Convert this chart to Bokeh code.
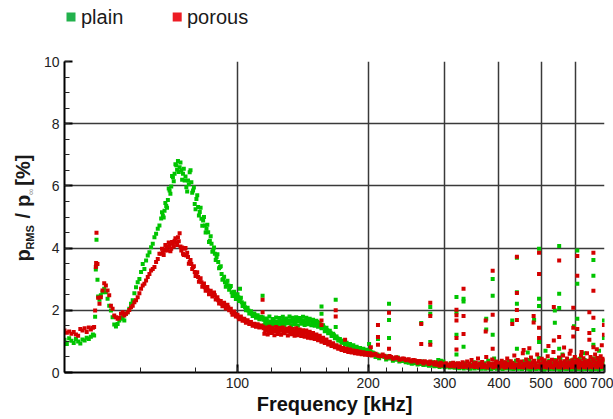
import math
from bokeh.plotting import figure
from bokeh.layouts import column, row
from bokeh.models import Range1d, FixedTicker, PrintfTickFormatter
from bokeh.core.properties import value
from bokeh.embed import file_html
from bokeh.resources import INLINE

# ---------------- data ----------------
x_major_ticks = [100, 200, 300, 400, 500, 600, 700]
x_minor_ticks = [40, 60, 80, 100, 120, 140, 160, 180, 200, 220, 240, 260, 280, 300, 320, 340, 360, 380,
                 400, 420, 440, 460, 480, 500, 520, 540, 560, 580, 600, 620, 640, 660, 680, 700]
y_major_ticks = [0, 2, 4, 6, 8, 10]
y_minor_ticks = [0.5, 1, 1.5, 2, 2.5, 3, 3.5, 4, 4.5, 5, 5.5, 6, 6.5, 7, 7.5, 8, 8.5, 9, 9.5, 10]

freq_low = [40.0, 40.5, 41.0, 41.5, 42.0, 42.5, 43.0, 43.5, 44.0, 44.5, 45.0, 45.5, 46.0, 46.5]
plain_low = [1.05, 0.92, 1.10, 1.02, 0.95, 1.08, 1.00, 0.93, 1.06, 1.03, 1.12, 1.08, 1.15, 1.22]
porous_low = [1.35, 1.28, 1.32, 1.25, 1.30, 1.22, 1.18, 1.40, 1.35, 1.42, 1.30, 1.45, 1.38, 1.44]

freq_b = [46.80, 47.05, 47.22, 47.39, 47.64, 47.81, 48.15, 48.50, 48.93, 49.37, 49.81, 50.26, 50.70, 51.16,
          51.61, 52.07, 52.54, 53.01, 53.48, 53.96, 54.44, 54.92, 55.41, 55.91, 56.40, 56.91, 57.42, 57.93,
          58.44, 58.96, 59.49, 60.02, 60.55, 61.09, 61.64, 62.19, 62.74, 63.30, 63.86, 64.43, 65.00, 65.58, 66.16]
plain_b = [1.19, 1.79, 3.31, 4.27, 2.98, 2.44, 2.34, 2.48, 2.58, 2.69, 2.58, 2.37, 2.15, 1.99, 1.78, 1.54,
           1.48, 1.56, 1.67, 1.73, 1.78, 1.67, 1.89, 1.94, 2.05, 2.21, 2.32, 2.55, 2.74, 2.90, 3.01, 3.23,
           3.49, 3.33, 3.60, 3.76, 3.87, 4.03, 4.14, 4.35, 4.46, 4.62, 4.73]
porous_b = [1.46, 1.99, 3.39, 4.49, 3.49, 2.40, 2.21, 2.42, 2.64, 2.87, 2.80, 2.64, 2.48, 2.15, 2.05, 1.83,
            1.78, 1.73, 1.76, 1.89, 1.94, 1.83, 1.89, 1.94, 2.01, 2.10, 2.15, 2.26, 2.32, 2.42, 2.55, 2.69,
            2.80, 2.85, 2.96, 3.07, 3.17, 3.28, 3.33, 3.39, 3.55, 3.65, 3.82]

freq_c = [66.77, 67.37, 67.97, 68.58, 69.19, 69.81, 70.43, 71.06, 71.69, 72.33, 72.98, 73.63, 74.29, 74.95,
          75.62, 76.30, 76.98, 77.67, 78.36, 79.06, 79.77, 80.48, 81.20, 81.93, 82.66, 83.40, 84.15, 84.90,
          85.66, 86.42, 87.20, 87.98, 88.76, 89.56, 90.36, 91.16, 91.98, 92.80, 93.63, 94.46, 95.31, 96.16,
          97.02, 97.88, 98.76, 99.64, 100.53, 101.43, 102.33, 103.25, 104.17, 105.10, 106.04, 106.99, 107.94,
          108.90, 109.88, 110.86, 111.85, 112.85, 113.85]
plain_c = [4.95, 5.05, 5.20, 5.35, 5.55, 5.85, 5.98, 6.28, 6.39, 6.66, 6.80, 6.60, 6.50, 6.39, 6.17, 5.96,
           6.17, 6.44, 6.12, 5.85, 5.42, 5.58, 5.32, 5.16, 4.94, 4.89, 4.73, 4.62, 4.51, 4.24, 4.14, 3.92,
           3.82, 3.71, 3.55, 3.39, 3.17, 3.01, 2.90, 2.85, 2.80, 2.74, 2.58, 2.53, 2.48, 2.44, 2.42, 2.37,
           2.26, 2.19, 2.10, 2.05, 1.99, 1.94, 1.89, 1.86, 1.83, 1.80, 1.78, 1.75, 1.73]
porous_c = [3.82, 3.87, 3.92, 4.03, 4.05, 4.08, 3.98, 4.14, 4.24, 4.19, 4.35, 4.48, 3.92, 3.82, 3.98, 3.76,
            3.71, 3.55, 3.49, 3.39, 3.23, 3.17, 3.07, 2.96, 2.90, 2.80, 2.74, 2.69, 2.64, 2.58, 2.53, 2.51,
            2.48, 2.37, 2.32, 2.26, 2.21, 2.19, 2.15, 2.12, 2.10, 2.02, 1.94, 1.91, 1.89, 1.83, 1.78, 1.76,
            1.73, 1.69, 1.67, 1.64, 1.62, 1.59, 1.56, 1.54, 1.51, 1.51, 1.51, 1.48, 1.46]

freq_c2 = [67.07, 67.67, 68.27, 68.88, 69.50, 70.12, 70.74, 71.37, 72.01, 72.65, 73.30, 73.96, 74.62, 75.28,
           75.96, 76.64, 77.32, 78.01, 78.71, 79.41, 80.12, 80.84, 81.56, 82.29, 83.03, 83.77, 84.52, 85.28,
           86.04, 86.81, 87.59, 88.37, 89.16, 89.96, 90.76, 91.57, 92.39, 93.21, 94.04, 94.88, 95.73, 96.59,
           97.45, 98.32, 99.20, 100.08, 100.98, 101.88, 102.79, 103.71, 104.63, 105.57, 106.51, 107.46,
           108.42, 109.39, 110.37, 111.35, 112.35, 113.35]
plain_c2 = [5.15, 4.98, 5.45, 5.30, 5.92, 5.75, 6.32, 6.15, 6.70, 6.52, 6.45, 6.75, 6.20, 6.55, 6.30, 5.82,
            6.05, 6.50, 5.78, 5.95, 5.25, 5.70, 5.05, 5.30, 4.72, 5.00, 4.50, 4.75, 4.20, 4.38, 3.88, 4.02,
            3.62, 3.80, 3.35, 3.42, 2.98, 3.08, 2.76, 2.95, 2.66, 2.78, 2.46, 2.60, 2.36, 2.52, 2.30, 2.40,
            2.14, 2.22, 2.00, 2.08, 1.90, 1.97, 1.82, 1.90, 1.76, 1.84, 1.71, 1.79]
porous_c2 = [3.98, 3.78, 4.10, 3.92, 4.18, 3.90, 4.20, 4.05, 4.32, 4.10, 4.22, 4.05, 4.02, 3.78, 4.00, 3.85,
             3.50, 3.62, 3.33, 3.42, 3.10, 3.22, 2.92, 3.03, 2.76, 2.86, 2.63, 2.75, 2.52, 2.63, 2.44, 2.57,
             2.35, 2.42, 2.22, 2.30, 2.13, 2.24, 2.06, 2.18, 2.00, 2.05, 1.86, 1.96, 1.80, 1.86, 1.71, 1.80,
             1.66, 1.73, 1.60, 1.68, 1.56, 1.62, 1.50, 1.57, 1.47, 1.55, 1.45, 1.51]

freq_d = [114.87, 115.89, 116.93, 117.97, 119.03, 120.09, 121.16, 122.24, 123.34, 124.44, 125.55, 126.67,
          127.80, 128.95, 130.10, 131.26, 132.43, 133.62, 134.81, 136.02, 137.23, 138.46, 139.70, 140.94,
          142.20, 143.47, 144.76, 146.05, 147.35, 148.67, 150.00, 151.34, 152.69, 154.06, 155.43, 156.82,
          158.22, 159.64, 161.06, 162.50, 163.95, 165.42, 166.90, 168.39, 169.89, 171.41, 172.94, 174.49,
          176.05, 177.62, 179.21, 180.81, 182.42, 184.05, 185.70, 187.36, 189.03, 190.72, 192.42, 194.14,
          195.88, 197.63, 199.40, 201.17, 202.97, 204.78]
plain_d = [1.70, 1.62, 1.68, 1.58, 1.64, 1.60, 1.66, 1.57, 1.63, 1.59, 1.67, 1.61, 1.70, 1.62, 1.66, 1.60,
           1.68, 1.63, 1.70, 1.61, 1.66, 1.64, 1.71, 1.62, 1.67, 1.60, 1.69, 1.63, 1.68, 1.61, 1.65, 1.59,
           1.62, 1.55, 1.53, 1.48, 1.45, 1.38, 1.36, 1.30, 1.28, 1.22, 1.20, 1.15, 1.10, 1.07, 1.02, 1.00,
           0.96, 0.95, 0.91, 0.90, 0.86, 0.85, 0.81, 0.79, 0.77, 0.75, 0.74, 0.72, 0.71, 0.70, 0.68, 0.67,
           0.65, 0.64]
porous_d = [1.42, 1.35, 1.40, 1.32, 1.38, 1.30, 1.36, 1.33, 1.39, 1.31, 1.37, 1.34, 1.29, 1.36, 1.32, 1.38,
            1.30, 1.35, 1.28, 1.33, 1.27, 1.34, 1.29, 1.31, 1.25, 1.30, 1.24, 1.28, 1.20, 1.22, 1.17, 1.19,
            1.13, 1.14, 1.10, 1.08, 1.03, 1.02, 0.97, 0.95, 0.91, 0.89, 0.85, 0.84, 0.81, 0.80, 0.77, 0.76,
            0.74, 0.73, 0.71, 0.70, 0.69, 0.68, 0.66, 0.66, 0.64, 0.65, 0.63, 0.63, 0.62, 0.61, 0.61, 0.60,
            0.59, 0.58]

freq_d2 = [114.36, 115.38, 116.41, 117.45, 118.50, 119.56, 120.62, 121.70, 122.79, 123.89, 124.99, 126.11,
           127.23, 128.37, 129.52, 130.68, 131.84, 133.02, 134.21, 135.41, 136.62, 137.84, 139.08, 140.32,
           141.57, 142.83, 144.11, 145.40, 146.70, 148.01, 149.33, 150.67, 152.01, 153.37, 154.74, 156.12,
           157.52, 158.93, 160.35, 161.78, 163.22, 164.68, 166.16, 167.64, 169.14, 170.65, 172.17, 173.71,
           175.27, 176.83, 178.41, 180.01, 181.61, 183.23, 184.87, 186.53, 188.19, 189.87, 191.57, 193.28,
           195.01, 196.75, 198.51, 200.28, 202.07, 203.87]
plain_d2 = [1.78, 1.52, 1.74, 1.55, 1.80, 1.50, 1.72, 1.54, 1.77, 1.51,
            1.75, 1.56, 1.79, 1.53, 1.74, 1.58, 1.80, 1.52, 1.76, 1.55,
            1.78, 1.50, 1.75, 1.57, 1.79, 1.53, 1.76, 1.55, 1.73, 1.52,
            1.70, 1.50, 1.66, 1.47, 1.60, 1.42, 1.52, 1.33, 1.44, 1.26,
            1.34, 1.17, 1.25, 1.10, 1.16, 1.03, 1.08, 0.96, 1.02, 0.90,
            0.96, 0.86, 0.92, 0.82, 0.88, 0.76, 0.83, 0.73, 0.79, 0.70,
            0.76, 0.68, 0.73, 0.64, 0.70, 0.62]
porous_d2 = [1.48, 1.25, 1.45, 1.22, 1.47, 1.27, 1.44, 1.20, 1.46, 1.24,
             1.43, 1.21, 1.45, 1.26, 1.41, 1.19, 1.44, 1.23, 1.40, 1.18,
             1.42, 1.20, 1.38, 1.17, 1.36, 1.15, 1.35, 1.12, 1.31, 1.10,
             1.27, 1.08, 1.22, 1.04, 1.18, 0.99, 1.12, 0.95, 1.06, 0.90,
             0.99, 0.85, 0.94, 0.81, 0.88, 0.76, 0.84, 0.72, 0.79, 0.69,
             0.76, 0.66, 0.74, 0.64, 0.71, 0.62, 0.69, 0.60, 0.67, 0.59,
             0.65, 0.57, 0.63, 0.56, 0.62, 0.55]

freq_e = [206, 210, 214, 218, 222, 226, 230, 234, 238, 242, 246, 250, 254, 258, 262, 266, 270, 274, 278, 282,
          286, 290, 294, 298, 302, 306, 310, 314, 318, 322, 326, 330, 334, 338, 342, 346, 350, 354, 358, 362,
          366, 370, 374, 378, 382, 386, 390, 394, 398, 402, 406, 410, 414, 418, 422, 426, 430, 434, 438, 442,
          446, 450, 454, 458, 462, 466, 470, 474, 478, 482, 486, 490, 494, 498, 502, 506, 510, 514, 518, 522,
          526, 530, 534, 538, 542, 546, 550, 554, 558, 562, 566, 570, 574, 578, 582, 586, 590, 594, 598, 602,
          606, 610, 614, 618, 622, 626, 630, 634, 638, 642, 646, 650, 654, 658, 662, 666, 670, 674, 678, 682,
          686, 690, 694, 698]
plain_e = [0.62, 0.58, 0.55, 0.50, 0.52, 0.47, 0.44, 0.48, 0.40, 0.42,
           0.39, 0.36, 0.33, 0.37, 0.30, 0.35, 0.32, 0.30, 0.34, 0.33,
           0.30, 0.40, 0.38, 0.35, 0.26, 0.24, 0.30, 0.22, 0.28, 0.25,
           0.22, 0.25, 0.30, 0.20, 0.27, 0.24, 0.33, 0.21, 0.26, 0.30,
           0.24, 0.30, 0.21, 0.38, 0.23, 0.28, 0.45, 0.22, 0.30, 0.26,
           0.22, 0.33, 0.25, 0.20, 0.35, 0.24, 0.28, 0.31, 0.38, 0.23,
           0.26, 0.20, 0.30, 0.36, 0.22, 0.27, 0.40, 0.24, 0.20, 0.32,
           0.25, 0.21, 0.47, 0.30, 0.23, 0.35, 0.20, 0.31, 0.26, 0.38,
           0.33, 0.22, 0.28, 0.40, 0.20, 0.31, 0.25, 0.44, 0.23, 0.30,
           0.26, 0.35, 0.21, 0.29, 0.38, 0.22, 0.31, 0.42, 0.25, 0.20,
           0.30, 0.24, 0.44, 0.27, 0.21, 0.33, 0.40, 0.23, 0.29, 0.36,
           0.25, 0.38, 0.22, 0.31, 0.45, 0.27, 0.20, 0.35, 0.29, 0.42,
           0.28, 0.33, 0.25, 0.36]
porous_e = [0.57, 0.55, 0.52, 0.54, 0.49, 0.50, 0.46, 0.47, 0.43, 0.44,
            0.41, 0.38, 0.40, 0.36, 0.37, 0.34, 0.36, 0.32, 0.35, 0.31,
            0.33, 0.29, 0.31, 0.27, 0.30, 0.26, 0.29, 0.31, 0.27, 0.30,
            0.28, 0.33, 0.26, 0.35, 0.29, 0.40, 0.27, 0.31, 0.45, 0.28,
            0.34, 0.26, 0.50, 0.30, 0.27, 0.42, 0.29, 0.35, 0.25, 0.31,
            0.38, 0.27, 0.33, 0.45, 0.28, 0.36, 0.30, 0.55, 0.26, 0.40,
            0.29, 0.35, 0.62, 0.28, 0.42, 0.31, 0.27, 0.48, 0.33, 0.38,
            0.30, 0.58, 0.36, 0.27, 0.44, 0.32, 0.39, 0.28, 0.52, 0.34,
            0.29, 0.41, 0.66, 0.31, 0.37, 0.27, 0.48, 0.35, 0.30, 0.55,
            0.36, 0.28, 0.45, 0.33, 0.60, 0.30, 0.39, 0.27, 0.50, 0.34,
            0.41, 0.29, 0.37, 0.55, 0.31, 0.46, 0.35, 0.28, 0.62, 0.38,
            0.33, 0.50, 0.29, 0.43, 0.36, 0.58, 0.31, 0.47, 0.39, 0.34,
            0.52, 0.37, 0.44, 0.40]

freq_e2 = [208, 212, 216, 220, 224, 228, 232, 236, 240, 244, 248, 252, 256, 260, 264, 268, 272, 276, 280, 284,
           288, 292, 296, 300, 304, 308, 312, 316, 320, 324, 328, 332, 336, 340, 344, 348, 352, 356, 360, 364,
           368, 372, 376, 380, 384, 388, 392, 396, 400, 404, 408, 412, 416, 420, 424, 428, 432, 436, 440, 444,
           448, 452, 456, 460, 464, 468, 472, 476, 480, 484, 488, 492, 496, 500, 504, 508, 512, 516, 520, 524,
           528, 532, 536, 540, 544, 548, 552, 556, 560, 564, 568, 572, 576, 580, 584, 588, 592, 596, 600, 604,
           608, 612, 616, 620, 624, 628, 632, 636, 640, 644, 648, 652, 656, 660, 664, 668, 672, 676, 680, 684,
           688, 692, 696]
plain_e2 = [0.50, 0.46, 0.53, 0.42, 0.45, 0.38, 0.41, 0.35, 0.37, 0.33,
            0.31, 0.28, 0.30, 0.26, 0.27, 0.24, 0.25, 0.22, 0.23, 0.20,
            0.21, 0.18, 0.20, 0.17, 0.19, 0.16, 0.18, 0.15, 0.17, 0.14,
            0.16, 0.13, 0.17, 0.14, 0.12, 0.16, 0.13, 0.18, 0.14, 0.12,
            0.15, 0.12, 0.17, 0.13, 0.11, 0.16, 0.14, 0.12, 0.18, 0.13,
            0.11, 0.15, 0.13, 0.17, 0.12, 0.14, 0.11, 0.16, 0.13, 0.12,
            0.15, 0.11, 0.14, 0.17, 0.12, 0.13, 0.10, 0.16, 0.12, 0.14,
            0.11, 0.15, 0.13, 0.12, 0.16, 0.10, 0.14, 0.12, 0.17, 0.11,
            0.13, 0.16, 0.11, 0.14, 0.12, 0.15, 0.10, 0.13, 0.17, 0.12,
            0.14, 0.11, 0.16, 0.12, 0.13, 0.10, 0.15, 0.12, 0.14, 0.16,
            0.11, 0.13, 0.15, 0.10, 0.14, 0.12, 0.16, 0.11, 0.13, 0.15,
            0.12, 0.10, 0.14, 0.17, 0.11, 0.13, 0.15, 0.12, 0.10, 0.14,
            0.12, 0.16, 0.13]
porous_e2 = [0.60, 0.53, 0.58, 0.48, 0.53, 0.44, 0.49, 0.41, 0.45, 0.39,
             0.43, 0.35, 0.39, 0.31, 0.36, 0.29, 0.33, 0.27, 0.30, 0.26,
             0.25, 0.22, 0.24, 0.21, 0.23, 0.20, 0.22, 0.19, 0.21, 0.18,
             0.20, 0.18, 0.22, 0.17, 0.19, 0.21, 0.18, 0.23, 0.17, 0.20,
             0.18, 0.22, 0.16, 0.20, 0.24, 0.17, 0.21, 0.19, 0.16, 0.22,
             0.19, 0.16, 0.21, 0.18, 0.23, 0.17, 0.20, 0.16, 0.22, 0.18,
             0.20, 0.17, 0.22, 0.16, 0.19, 0.24, 0.17, 0.21, 0.18, 0.16,
             0.22, 0.18, 0.20, 0.16, 0.23, 0.19, 0.17, 0.21, 0.16, 0.24,
             0.18, 0.21, 0.16, 0.20, 0.23, 0.17, 0.19, 0.22, 0.16, 0.20,
             0.17, 0.23, 0.19, 0.16, 0.21, 0.18, 0.24, 0.17, 0.20, 0.22,
             0.19, 0.16, 0.22, 0.18, 0.25, 0.17, 0.20, 0.23, 0.16, 0.21,
             0.24, 0.18, 0.21, 0.16, 0.22, 0.19, 0.26, 0.17, 0.23, 0.20,
             0.18, 0.25, 0.21]

# isolated spikes / outliers
plain_spike_f = [47.30, 101.4, 114.3, 156.2, 156.2, 168.4, 168.4, 201.0, 210.7, 223.4, 223.4, 223.4, 265.0,
                 278.0, 278.0, 278.0, 319.4, 319.4, 319.4, 319.4, 331.6, 331.6, 331.6, 374.0, 374.0, 387.0,
                 387.0, 387.0, 429.3, 440.0, 440.0, 440.0, 440.0, 466.0, 482.0, 494.8, 494.8, 494.8, 494.8,
                 512.0, 538.0, 538.0, 550.5, 550.5, 550.5, 550.5, 560.0, 595.5, 606.0, 606.0, 606.0, 630.0,
                 660.0, 660.0, 660.0, 660.0, 680.0, 698.0, 698.0]
plain_spike_v = [3.42, 2.69, 2.47, 2.12, 1.89, 2.34, 1.46, 0.92, 1.08, 2.21, 1.69, 1.11, 1.59,
                 2.11, 1.89, 0.98, 2.43, 1.94, 1.21, 0.58, 2.37, 2.28, 0.83, 1.73, 1.38, 3.01,
                 2.47, 1.21, 1.67, 3.69, 2.58, 2.21, 0.76, 0.64, 1.69, 3.98, 2.37, 2.14, 0.98,
                 0.70, 1.99, 1.60, 4.07, 2.53, 2.07, 0.76, 0.58, 1.49, 3.92, 2.85, 1.73, 0.62,
                 3.62, 3.11, 1.37, 0.89, 0.70, 1.67, 1.11]
porous_spike_f = [47.30, 114.3, 114.3, 156.2, 156.2, 168.4, 168.4, 177.0, 202.9, 210.7, 210.7, 210.7, 223.4,
                  223.4, 265.0, 265.0, 278.0, 278.0, 278.0, 319.4, 319.4, 319.4, 319.4, 319.4, 331.6, 331.6,
                  331.6, 372.9, 372.9, 387.0, 387.0, 387.0, 429.3, 440.0, 440.0, 440.0, 440.0, 456.0, 470.0,
                  480.8, 480.8, 494.8, 494.8, 494.8, 494.8, 520.0, 535.1, 535.1, 550.5, 550.5, 565.0, 585.0,
                  593.2, 593.2, 593.2, 606.0, 606.0, 606.0, 620.0, 646.0, 646.0, 646.0, 660.0, 660.0, 660.0,
                  660.0, 672.0, 690.0, 698.0, 698.0]
porous_spike_v = [3.52, 2.34, 1.94, 1.67, 1.53, 2.00, 1.80, 1.05, 0.81, 1.53, 1.14, 0.89, 1.92,
                  0.76, 1.56, 0.92, 2.24, 1.82, 0.89, 2.02, 1.84, 1.67, 1.11, 0.74, 2.69, 1.82,
                  1.24, 1.67, 1.32, 3.27, 1.86, 0.76, 1.56, 3.72, 2.56, 2.01, 1.69, 0.72, 0.78,
                  1.82, 1.61, 3.85, 3.17, 1.44, 1.11, 0.85, 2.11, 1.03, 3.60, 1.14, 0.80, 0.70,
                  2.08, 1.44, 1.16, 3.75, 3.11, 1.40, 0.66, 1.94, 1.27, 1.05, 3.85, 2.63, 1.76,
                  0.81, 0.75, 0.88, 1.53, 1.21]

series_labels = ["plain", "porous"]
series_colors = ["#00c400", "#d40000"]
legend_colors = ["#22b14c", "#ed1c24"]

FONT = "Liberation Sans"
W, H = 613, 419
LEG_H = 30          # strip on top holding the legend
YLAB_W = 40         # strip on the left holding the y-axis title


def bare(width, height, xr, yr):
    f = figure(width=width, height=height, x_range=Range1d(*xr), y_range=Range1d(*yr),
               output_backend="svg", toolbar_location=None,
               x_axis_location=None, y_axis_location=None,
               min_border_left=0, min_border_right=0, min_border_top=0, min_border_bottom=0)
    f.outline_line_color = None
    f.grid.visible = False
    f.background_fill_color = "white"
    f.border_fill_color = "white"
    return f


# ---------------- legend strip (pixel coordinates) ----------------
leg = bare(W, LEG_H, (0, W), (0, LEG_H))
leg_sq_x = [70.5, 176.7]
leg_txt_x = [80.5, 186.5]
leg_y = LEG_H - 16.5
leg.scatter(leg_sq_x, [leg_y, leg_y], marker="square", size=9, color=legend_colors, line_width=0)
leg.text(leg_txt_x, [leg_y, leg_y], text=series_labels, text_font=value(FONT), text_font_size="20px",
         text_color="#1a1a1a", text_align="left", text_baseline="middle")

# ---------------- y-axis title strip (pixel coordinates, pieces placed by centre) ----------------
yl = bare(YLAB_W, H - LEG_H, (0, YLAB_W), (0, H - LEG_H))


def ypiece(texts, xs, cys, size, color="#1a1a1a", style="bold"):
    yl.text(xs, [H - cy for cy in cys], text=texts, angle=math.pi / 2,
            text_font=value(FONT), text_font_size=size, text_font_style=style,
            text_color=color, text_align="center", text_baseline="middle")


ypiece(["p", "/", "p", "[%]"], [22, 22, 22, 22], [272.5, 223, 204.5, 166], "20px")
ypiece(["RMS"], [29], [250], "11px")
ypiece(["\u221e"], [30], [193], "9px", color="#888888", style="normal")

# ---------------- main plot ----------------
p = figure(width=W - YLAB_W, height=H - LEG_H, x_axis_type="log",
           x_range=Range1d(40, 700), y_range=Range1d(0, 10),
           output_backend="svg", toolbar_location=None,
           min_border_left=63 - YLAB_W, min_border_right=9, min_border_top=61 - LEG_H, min_border_bottom=47)
p.outline_line_color = None
p.background_fill_color = "white"
p.border_fill_color = "white"

p.xgrid.ticker = FixedTicker(ticks=x_major_ticks)
p.ygrid.ticker = FixedTicker(ticks=y_major_ticks)
p.grid.grid_line_color = "#3a3a3a"
p.grid.grid_line_width = 1.5

xa = p.xaxis[0]
xa.ticker = FixedTicker(ticks=x_major_ticks, minor_ticks=x_minor_ticks)
xa.formatter = PrintfTickFormatter(format="%d")
ya = p.yaxis[0]
ya.ticker = FixedTicker(ticks=y_major_ticks, minor_ticks=y_minor_ticks)

for ax in (xa, ya):
    ax.axis_line_color = "black"
    ax.axis_line_width = 2
    ax.major_tick_in = 8
    ax.major_tick_out = 0
    ax.minor_tick_in = 5
    ax.minor_tick_out = 0
    ax.major_tick_line_color = "black"
    ax.major_tick_line_width = 2
    ax.minor_tick_line_color = "#222222"
    ax.minor_tick_line_width = 1
    ax.major_label_text_font = FONT
    ax.major_label_text_font_size = "14px"
    ax.major_label_text_color = "#222222"
    ax.major_label_standoff = 5

xa.axis_label = "Frequency [kHz]"
xa.axis_label_text_font = FONT
xa.axis_label_text_font_size = "20px"
xa.axis_label_text_font_style = "bold"
xa.axis_label_text_color = "#111111"
xa.axis_label_standoff = 2

plain_x = freq_low + freq_b + freq_c + freq_c2 + freq_d + freq_d2 + freq_e + freq_e2 + plain_spike_f
plain_y = plain_low + plain_b + plain_c + plain_c2 + plain_d + plain_d2 + plain_e + plain_e2 + plain_spike_v
porous_x = freq_low + freq_b + freq_c + freq_c2 + freq_d + freq_d2 + freq_e + freq_e2 + porous_spike_f
porous_y = porous_low + porous_b + porous_c + porous_c2 + porous_d + porous_d2 + porous_e + porous_e2 + porous_spike_v

p.scatter(plain_x, plain_y, marker="square", size=4, color=series_colors[0], line_width=0)
p.scatter(porous_x, porous_y, marker="square", size=4, color=series_colors[1], line_width=0)

layout = column(leg, row(yl, p, spacing=0), spacing=0)
open("out.html", "w").write(file_html(layout, INLINE))
